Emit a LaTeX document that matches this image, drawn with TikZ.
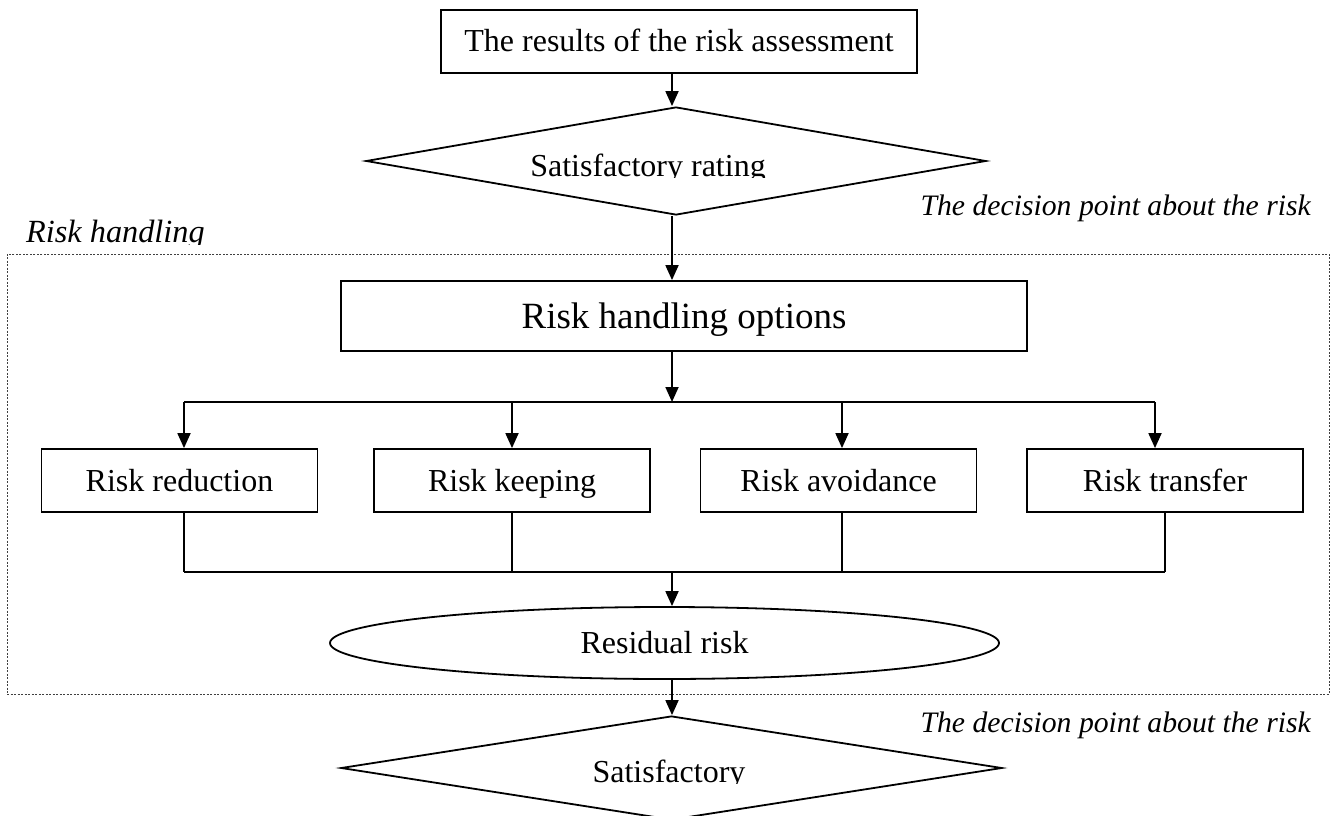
\documentclass[tikz,border=0pt]{standalone}
\usepackage{fontspec}
\setmainfont{Liberation Serif}
\usetikzlibrary{arrows.meta,shapes.geometric}
\begin{document}
\begin{tikzpicture}[x=1pt,y=-1pt,
  txt/.style={font=\fontsize{32}{36}\selectfont},
  box/.style={draw, line width=1.8pt, minimum width=276pt, minimum height=63pt, inner sep=0pt, txt, text height=21pt, text depth=0pt},
  dia/.style={draw, diamond, line width=1.8pt, inner sep=0pt},
  conn/.style={line width=1.8pt},
  arr/.style={conn, -{Triangle[length=15pt,width=13pt]}},
  lbl/.style={font=\fontsize{29.7}{34}\selectfont\itshape, inner sep=0pt},
  frame/.style={draw=black!75, line width=1pt, dash pattern=on 2pt off 1.5pt, inner sep=0pt}
]
\useasboundingbox (0,0) rectangle (1336,816);
\clip (0,0) rectangle (1336,816);

% frame of the risk handling part
\node[frame, minimum width=1322pt, minimum height=440pt] (frm) at (668,474) {};

% axis of the main flow
\coordinate (axis) at (672,0);

% nodes
\node[box, minimum width=476pt] (res) at (679,41.5) {The results of the risk assessment};
\node[dia, minimum width=620pt, minimum height=108pt] (d1) at (676,161) {};
\node[box, minimum width=686pt, minimum height=70pt, font=\fontsize{37}{42}\selectfont, text height=24pt] (opt) at (684,316) {Risk handling options};
\node[box] (r1) at (179.5,480.5) {Risk reduction};
\node[box] (r2) at (512,480.5) {Risk keeping};
\node[box] (r3) at (838.5,480.5) {Risk avoidance};
\node[box] (r4) at (1165,480.5) {Risk transfer};
\node[draw, ellipse, line width=1.8pt, minimum width=669pt, minimum height=72pt, inner sep=0pt, txt, text height=21pt, text depth=0pt] (ell) at (664.5,643) {Residual risk};
\node[dia, minimum width=661pt, minimum height=104pt] (d2) at (671.5,768) {};

% clipped texts
\begin{scope}
  \clip (0,100) rectangle (1336,177.5);
  \node[txt, inner sep=0pt, anchor=base] (d1t) at (648,176) {Satisfactory rating};
\end{scope}
\begin{scope}
  \clip (0,720) rectangle (1336,783.5);
  \node[txt, inner sep=0pt, anchor=base] (d2t) at (669,782) {Satisfactory};
\end{scope}
\begin{scope}
  \clip (0,200) rectangle (1336,244);
  \node[lbl, font=\fontsize{32.3}{36}\selectfont\itshape, anchor=base west] (rh) at (26,242) {Risk handling};
\end{scope}
\node[lbl, anchor=base east] (dp1) at (1311,215) {The decision point about the risk};
\node[lbl, anchor=base east] (dp2) at (1311,732) {The decision point about the risk};

% branch coordinates
\coordinate (br) at (672,402);
\coordinate (b1) at (184,402);
\coordinate (b2) at (512,402);
\coordinate (b3) at (842,402);
\coordinate (b4) at (1155,402);
\coordinate (m1) at (184,572);
\coordinate (m2) at (512,572);
\coordinate (m3) at (842,572);
\coordinate (m4) at (1165,572);
\coordinate (mc) at (672,572);

% connectors
\draw[arr] (res.south -| axis) -- (d1.north -| axis);
\draw[arr] (d1.south -| axis) -- (opt.north -| axis);
\draw[arr] (opt.south -| axis) -- (br);
\draw[conn] (b1) -- (b4);
\draw[arr] (b1) -- (b1 |- r1.north);
\draw[arr] (b2) -- (b2 |- r2.north);
\draw[arr] (b3) -- (b3 |- r3.north);
\draw[arr] (b4) -- (b4 |- r4.north);
\draw[conn] (m1 |- r1.south) -- (m1);
\draw[conn] (m2 |- r2.south) -- (m2);
\draw[conn] (m3 |- r3.south) -- (m3);
\draw[conn] (m4 |- r4.south) -- (m4);
\draw[conn] (m1) -- (m4);
\draw[arr] (mc) -- (ell.north -| mc);
\draw[arr] (ell.south -| axis) -- (d2.north -| axis);
\end{tikzpicture}
\end{document}
